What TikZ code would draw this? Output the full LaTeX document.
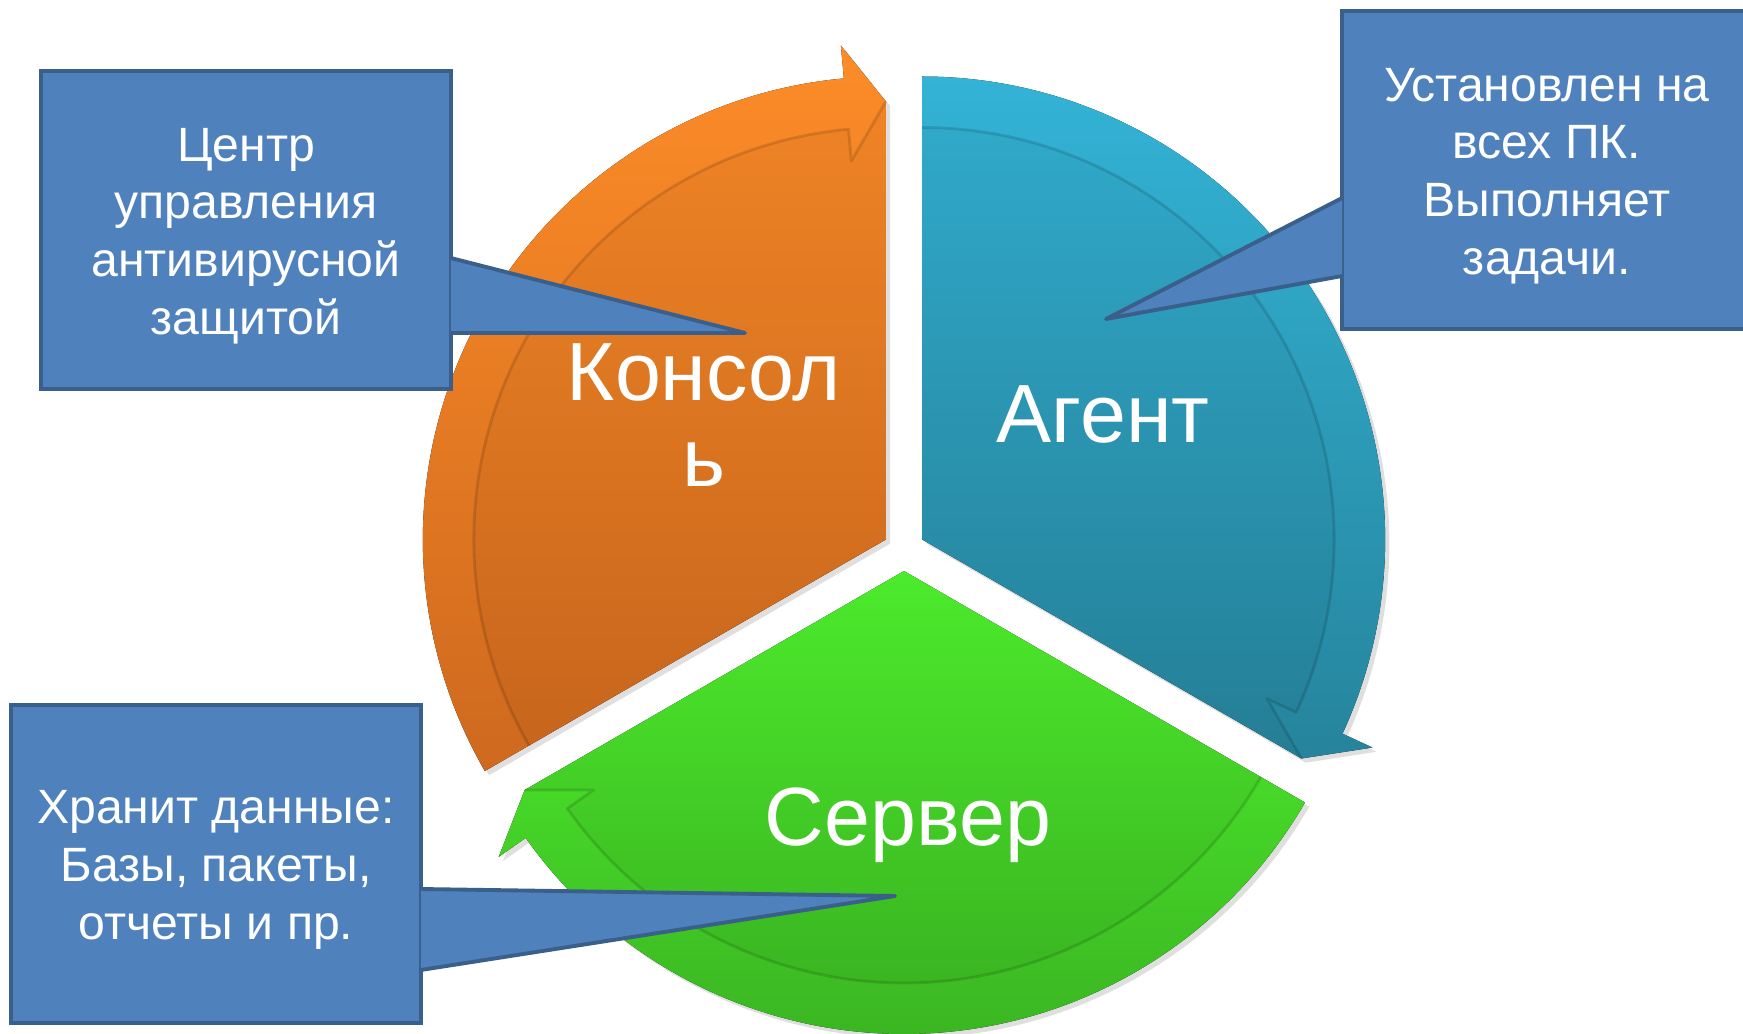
\documentclass[tikz,border=0pt]{standalone}
\usepackage{fontspec}
\setmainfont{Liberation Sans}
\usetikzlibrary{calc, shadows, positioning}
\definecolor{conTop}{HTML}{FD8C28}
\definecolor{conBot}{HTML}{CE691E}
\definecolor{agTop}{HTML}{33B3D6}
\definecolor{agBot}{HTML}{26849C}
\definecolor{srvTop}{HTML}{50F52E}
\definecolor{srvBot}{HTML}{3BB622}
\definecolor{noteFill}{HTML}{4F81BD}
\definecolor{noteEdge}{HTML}{3A5F8B}
% #1 apex, #2 tail angle, #3 head angle, #4 colours
\newcommand{\Segment}[4]{%
  \fill[sector, #4] (#1) -- ($(#1)+(#2:4.63)$) arc[start angle=#2, end angle={#3+5.2}, radius=4.63]
    -- ($(#1)+({#3+5.2}:4.96)$) -- ($(#1)+(#3:4.38)$) -- cycle;
  \fill[band shade] (#1) -- ($(#1)+(#2:4.12)$) arc[start angle=#2, end angle={#3+5.2}, radius=4.12]
    -- ($(#1)+({#3+5.2}:3.80)$) -- ($(#1)+(#3:4.38)$) -- cycle;
  \draw[band line] ($(#1)+(#2:4.12)$) arc[start angle=#2, end angle={#3+5.2}, radius=4.12]
    -- ($(#1)+({#3+5.2}:3.80)$) -- ($(#1)+(#3:4.38)$);
}
\tikzset{
    sector/.style={drop shadow={shadow xshift=1.2pt, shadow yshift=-1.2pt, opacity=0.25}},
    band shade/.style={fill=black, opacity=0.04},
    band line/.style={draw=black, opacity=0.13, line width=0.8pt, line join=round},
    big label/.style={text=white, align=center, font=\fontsize{23.5pt}{24.4pt}\selectfont},
    note/.style={fill=noteFill, draw=noteEdge, line width=1.1pt,
        minimum width=4.1cm, minimum height=3.18cm, inner sep=0pt},
    note text/.style={text=white, align=center, inner sep=0pt,
        font=\fontsize{13.7pt}{16.4pt}\selectfont},
    pointer/.style={fill=noteFill, draw=noteEdge, line width=1.1pt, line join=round},
}

\begin{document}
\begin{tikzpicture}
    \useasboundingbox (0,0) rectangle (17.43,10.33);

    \coordinate (mid) at (9.04,4.83);
    \coordinate (con apex) at ($(mid)+(150:0.21)$);
    \coordinate (ag apex) at ($(mid)+(30:0.21)$);
    \coordinate (srv apex) at ($(mid)+(270:0.21)$);

    \Segment{con apex}{210}{90}{top color=conTop, bottom color=conBot}
    \Segment{ag apex}{90}{-30}{top color=agTop, bottom color=agBot}
    \Segment{srv apex}{-30}{-150}{top color=srvTop, bottom color=srvBot}

    \node[big label] (console) at (7.04,6.18) {Консол\\ь};
    \node[big label] (agent) at (11.03,6.19) {Агент};
    \node[big label] (server) at (9.08,2.08) {Сервер};

    \node[note] (console note) at (2.46,8.03) {};
    \node[note text] (console text) at ([yshift=-0.06cm]console note.center)
        {Центр\\управления\\антивирусной\\защитой};
    \coordinate (console tip) at (7.45,7.00);
    \filldraw[pointer] ([xshift=-0.6pt, yshift=-0.28cm]console note.east) -- (console tip)
        -- ([xshift=-0.6pt, yshift=-1.03cm]console note.east);

    \node[note] (agent note) at (15.47,8.63) {};
    \node[note text] (agent text) at ([yshift=-0.06cm]agent note.center)
        {Установлен на\\всех ПК.\\Выполняет\\задачи.};
    \coordinate (agent tip) at (11.06,7.14);
    \filldraw[pointer] ([xshift=0.6pt, yshift=-0.28cm]agent note.west) -- (agent tip)
        -- ([xshift=0.6pt, yshift=-1.06cm]agent note.west);

    \node[note] (server note) at (2.16,1.69) {};
    \node[note text] (server text) at ([yshift=-0.06cm]server note.center)
        {Хранит данные:\\Базы, пакеты,\\отчеты и пр.};
    \coordinate (server tip) at (8.95,1.37);
    \filldraw[pointer] ([xshift=-0.6pt, yshift=-0.25cm]server note.east) -- (server tip)
        -- ([xshift=-0.6pt, yshift=-1.06cm]server note.east);
\end{tikzpicture}
\end{document}
